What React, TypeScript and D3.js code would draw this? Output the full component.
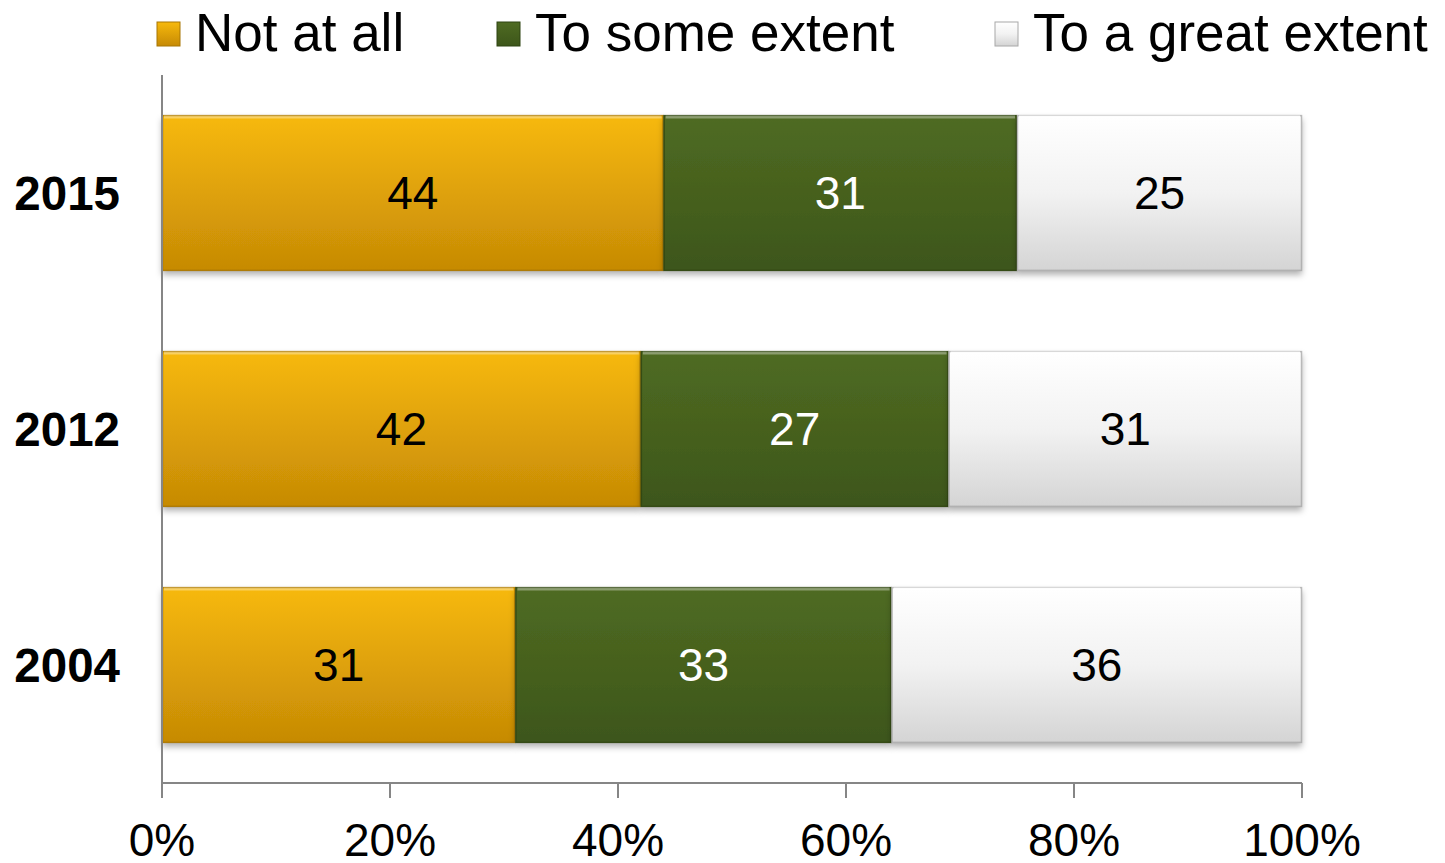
import React from "react";
import * as d3 from "d3";

const years = ["2015", "2012", "2004"];
const notAtAll = [44, 42, 31];
const someExtent = [31, 27, 33];
const greatExtent = [25, 31, 36];
const seriesNames = ["Not at all", "To some extent", "To a great extent"];
const xTicks = [0, 20, 40, 60, 80, 100];

const W = 1445;
const H = 863;
const margin = { left: 162, right: 143, top: 75, bottom: 80 };

const gradIds = ["gOrange", "gGreen", "gWhite"];
const labelColors = ["#000", "#fff", "#000"];
const edgeColors = ["#a87604", "#2f4512", "#a8a8a8"];
const legendX = [157, 497, 995];

export default function App() {
  const x = d3.scaleLinear().domain([0, 100]).range([margin.left, W - margin.right]);
  const y = d3.scaleBand().domain(years).range([margin.top, H - margin.bottom]).paddingInner(0.34).paddingOuter(0.17);
  const stack = d3.stack<any>().keys(["a", "b", "c"]);
  const rows = years.map((yr, i) => ({ yr, a: notAtAll[i], b: someExtent[i], c: greatExtent[i] }));
  const stacked = stack(rows);
  const axisY = H - margin.bottom;
  const font = "Arial, 'Liberation Sans', sans-serif";

  return (
    <svg width={W} height={H} style={{ position: "absolute", left: 0, top: 0, background: "#fff" }}>
      <defs>
        <linearGradient id="gOrange" x1="0" y1="0" x2="0" y2="1">
          <stop offset="0" stopColor="#f7b90c" />
          <stop offset="1" stopColor="#c68a05" />
        </linearGradient>
        <linearGradient id="gGreen" x1="0" y1="0" x2="0" y2="1">
          <stop offset="0" stopColor="#4f6b22" />
          <stop offset="1" stopColor="#3d561a" />
        </linearGradient>
        <linearGradient id="gWhite" x1="0" y1="0" x2="0" y2="1">
          <stop offset="0" stopColor="#ffffff" />
          <stop offset="0.5" stopColor="#f2f2f2" />
          <stop offset="1" stopColor="#d4d4d4" />
        </linearGradient>
        <filter id="shadow" x="-5%" y="-10%" width="110%" height="130%">
          <feDropShadow dx="0" dy="4" stdDeviation="3" floodColor="#000" floodOpacity="0.3" />
        </filter>
      </defs>

      {/* legend */}
      {seriesNames.map((n, i) => (
        <g key={n}>
          <rect x={legendX[i]} y={22} width={23} height={24} fill={`url(#${gradIds[i]})`} stroke={edgeColors[i]} strokeWidth={1} />
          <text x={legendX[i] + 38} y={51} fontFamily={font} fontSize={53} fill="#000">{n}</text>
        </g>
      ))}

      {/* bars */}
      {stacked.map((s, si) => (
        <g key={si}>
          {s.map((d, j) => {
            const x0 = x(d[0]);
            const x1 = x(d[1]);
            const y0 = y(years[j])!;
            const bh = y.bandwidth();
            return (
              <g key={j}>
                <rect x={x0} y={y0} width={x1 - x0} height={bh} fill={`url(#${gradIds[si]})`} filter="url(#shadow)" />
                <rect x={x0 + 0.5} y={y0 + 0.5} width={x1 - x0 - 1} height={bh - 1} fill="none" stroke={edgeColors[si]} strokeWidth={1.5} opacity={0.8} />
                <line x1={x0 + 2} x2={x1 - 2} y1={y0 + 2} y2={y0 + 2} stroke="#fff" strokeOpacity={si === 2 ? 0.9 : 0.35} strokeWidth={3} />
                <text x={(x0 + x1) / 2} y={y0 + bh / 2 + 16} textAnchor="middle" fontFamily={font} fontSize={46} fill={labelColors[si]}>
                  {d[1] - d[0]}
                </text>
              </g>
            );
          })}
        </g>
      ))}

      {/* y axis */}
      <line x1={margin.left} x2={margin.left} y1={margin.top} y2={axisY} stroke="#868686" strokeWidth={2} />
      {years.map((yr) => (
        <text key={yr} x={120} y={y(yr)! + y.bandwidth() / 2 + 17} textAnchor="end" fontFamily={font} fontWeight="bold" fontSize={47.5} fill="#000">
          {yr}
        </text>
      ))}

      {/* x axis */}
      <line x1={margin.left} x2={W - margin.right} y1={axisY} y2={axisY} stroke="#868686" strokeWidth={2} />
      {xTicks.map((t) => (
        <g key={t}>
          <line x1={x(t)} x2={x(t)} y1={axisY} y2={axisY + 15} stroke="#868686" strokeWidth={2} />
          <text x={x(t)} y={axisY + 73} textAnchor="middle" fontFamily={font} fontSize={46} fill="#000">{t}%</text>
        </g>
      ))}
    </svg>
  );
}
